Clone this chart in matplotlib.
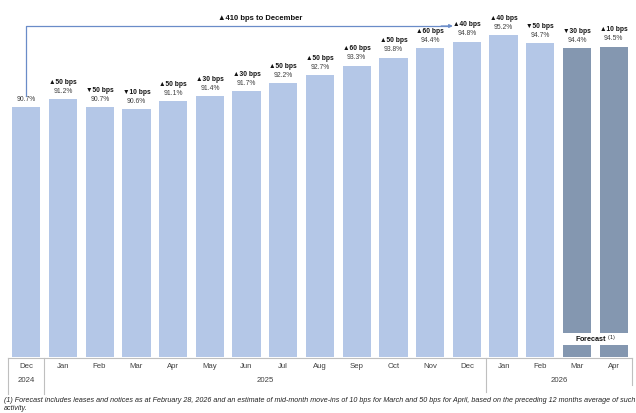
import matplotlib
matplotlib.use("Agg")
import matplotlib.pyplot as plt
from matplotlib.lines import Line2D
from matplotlib.patches import Rectangle

plt.rcParams['font.family'] = ['Liberation Sans', 'DejaVu Sans']

months = ["Dec", "Jan", "Feb", "Mar", "Apr", "May", "Jun", "Jul", "Aug",
          "Sep", "Oct", "Nov", "Dec", "Jan", "Feb", "Mar", "Apr"]
occupancy = [90.7, 91.2, 90.7, 90.6, 91.1, 91.4, 91.7, 92.2, 92.7,
             93.3, 93.8, 94.4, 94.8, 95.2, 94.7, 94.4, 94.5]
changes = ["", "▲50 bps", "▼50 bps", "▼10 bps", "▲50 bps", "▲30 bps", "▲30 bps",
           "▲50 bps", "▲50 bps", "▲60 bps", "▲50 bps", "▲60 bps", "▲40 bps",
           "▲40 bps", "▼50 bps", "▼30 bps", "▲10 bps"]
is_forecast = [False] * 15 + [True, True]
years = ["2024", "2025", "2026"]
year_spans = [(0, 0), (1, 12), (13, 16)]

W, H = 636, 413
fig = plt.figure(figsize=(W / 100, H / 100), dpi=100)
ymin = 75.1
px_per_pct = 16.0
ax = fig.add_axes([8 / W, (H - 357) / H, 624 / W, 357 / H])
ax.set_xlim(-0.5, len(months) - 0.5)
ax.set_ylim(ymin, ymin + 357 / px_per_pct)
ax.axis("off")

colors = ["#8497B0" if f else "#B4C7E7" for f in is_forecast]
x = list(range(len(months)))
ax.bar(x, [v - ymin for v in occupancy], bottom=ymin, width=0.77, color=colors, zorder=2)

for i, v in enumerate(occupancy):
    ax.annotate(f"{v:.1f}%", (i, v), xytext=(0, 3.2), textcoords="offset points",
                ha="center", va="bottom", fontsize=4.9, color="#404040")
    if changes[i]:
        ax.annotate(changes[i], (i, v), xytext=(0, 9.6), textcoords="offset points",
                    ha="center", va="bottom", fontsize=4.8, fontweight="bold", color="#111111")

# forecast box
ax.add_patch(Rectangle((14.55, ymin + 12 / px_per_pct), 16.5 - 14.55, 12 / px_per_pct,
                       facecolor="white", edgecolor="none", zorder=3))
ax.text(15.5, ymin + 18 / px_per_pct, "Forecast $^{(1)}$", ha="center", va="center",
        fontsize=5.2, fontweight="bold", color="#111111", zorder=4)

# 410 bps bracket arrow
arrow_y = ymin + (357 - 26) / px_per_pct
ax.plot([0, 0, 11.5], [ymin + (357 - 96) / px_per_pct, arrow_y, arrow_y],
        color="#6A8CC8", lw=0.9, clip_on=False, zorder=3)
ax.annotate("", xy=(11.62, arrow_y), xytext=(11.3, arrow_y),
            arrowprops=dict(arrowstyle="-|>", color="#6A8CC8", lw=0.9,
                            mutation_scale=5, shrinkA=0, shrinkB=0))
ax.text(6.36, ymin + (357 - 19) / px_per_pct, "▲410 bps to December", ha="center",
        va="center", fontsize=5.5, fontweight="bold", color="#111111")

# category axis
grey = "#BFBFBF"
fig.add_artist(Line2D([8 / W, 632 / W], [(H - 357.5) / H] * 2, color=grey, lw=0.8))
for xp, y1 in [(8, 394), (44, 394), (486, 392), (632, 385)]:
    fig.add_artist(Line2D([xp / W] * 2, [(H - 357.5) / H, (H - y1) / H], color=grey, lw=0.8))

for i, m in enumerate(months):
    fig.text((26 + i * 36.75) / W, (H - 367) / H, m, ha="center", va="center",
             fontsize=5.6, color="#404040")
for yr, (a, b) in zip(years, year_spans):
    xc = 26 + (a + b) / 2 * 36.75
    fig.text(xc / W, (H - 381) / H, yr, ha="center", va="center", fontsize=5.6, color="#404040")

fig.text(4 / W, (H - 400) / H,
         "(1) Forecast includes leases and notices as at February 28, 2026 and an estimate of "
         "mid-month move-ins of 10 bps for March and 50 bps for April, based on the preceding "
         "12 months average of such", ha="left", va="center", fontsize=5.12,
         style="italic", color="#222222")
fig.text(4 / W, (H - 409) / H, "activity.", ha="left", va="center", fontsize=5.12,
         style="italic", color="#222222")

fig.savefig("out.png", dpi=100)
